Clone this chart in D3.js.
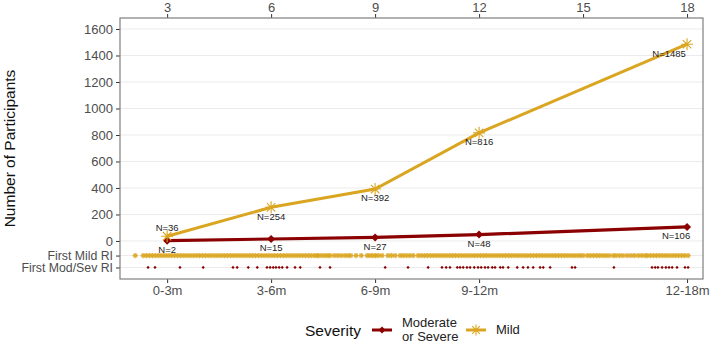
<!DOCTYPE html>
<html><head><meta charset="utf-8">
<script src="https://cdn.jsdelivr.net/npm/d3@7"></script>
<style>body{margin:0;background:#fff}svg{display:block;font-family:"Liberation Sans",Arial,sans-serif}</style>
</head><body><svg id="c" width="711" height="344"></svg>
<script>
// ---- data ----
const months = [3, 6, 9, 12, 18];
const periodLabels = ["0-3m", "3-6m", "6-9m", "9-12m", "12-18m"];
const topTicks = [3, 6, 9, 12, 15, 18];
const mildCounts = [36, 254, 392, 816, 1485];
const modSevCounts = [2, 15, 27, 48, 106];
const yTicks = [0, 200, 400, 600, 800, 1000, 1200, 1400, 1600];
const stripRows = ["First Mild RI", "First Mod/Sev RI"];
const stripRowValues = [-110, -200];
const firstMildRI = [2.08,
 2.31,2.40,2.49,2.58,2.67,2.76,2.85,2.94,3.03,3.12,3.21,3.30,3.39,3.48,3.57,3.66,3.75,3.84,3.93,4.02,4.11,4.20,4.29,4.38,4.47,4.56,4.65,4.74,4.83,4.92,5.01,5.10,5.19,5.28,5.37,5.46,5.55,5.64,5.73,5.82,5.91,6.00,6.09,6.18,6.27,6.36,6.45,6.54,6.63,6.72,6.81,6.90,6.99,7.08,7.17,7.26,7.33,
 7.38,7.47,7.56,7.64,7.70,
 7.82,7.92,8.02,8.13,
 8.22,8.30, 8.45, 8.60,
 8.77,8.85,8.93,9.01,9.09, 9.20,
 9.37,9.47,9.58,
 9.72,9.81,9.90,10.00,10.10,
 10.24,10.33,10.42,10.51,10.60,10.69,10.78,10.87,10.96,11.05,11.14,11.23,11.32,11.41,11.50,11.59,11.68,11.77,11.86,11.95,12.04,12.13,12.22,12.31,12.40,12.49,12.58,12.67,12.76,12.85,12.94,13.03,13.12,13.21,13.30,13.39,13.48,13.57,13.66,13.75,13.84,13.93,14.02,14.11,14.20,14.29,14.38,14.47,14.56,14.65,14.74,14.83,14.92,15.00,
 15.12,15.21,15.30,15.39,15.48,15.57,15.66,15.75,15.87,
 15.95,16.05,16.15,16.27,
 16.38,16.48,
 16.59,16.69,16.79,
 16.85,16.94,17.03,17.12,17.21,17.30,17.39,17.48,17.57,17.66,17.75,17.84,17.93,18.03];
const firstModSevRI = [2.45,2.65,3.37,4.04,4.90,5.02,5.34,5.60,5.88,5.97,6.06,6.14,6.23,6.32,6.46,6.69,6.84,7.41,7.70,
 9.29,9.95,10.53,10.93,11.05,11.16,11.37,11.45,11.54,11.65,11.74,11.86,11.97,12.06,12.17,12.26,12.38,12.46,12.61,12.69,12.84,
 13.10,13.27,13.41,13.56,13.76,13.85,14.05,14.68,14.77,15.89,16.99,17.08,17.16,17.28,17.39,17.48,17.57,17.71,17.94,18.03];
const seriesNames = ["Moderate\nor Severe", "Mild"];

// ---- styles ----
const RED = "#8b0000", GOLD = "#daa520";
const svg = d3.select("#c");
const L = 120, R = 703, T = 18, B = 279;
const x = d3.scaleLinear().domain([1.64, 18.46]).range([L, R]);
const y = d3.scaleLinear().domain([-287, 1683]).range([B, T]);

// gridlines
const gridVals = yTicks.concat(stripRowValues);
svg.append("g").selectAll("line").data(gridVals).join("line")
  .attr("x1", L).attr("x2", R).attr("y1", d => y(d)).attr("y2", d => y(d))
  .attr("stroke", "#ebebeb").attr("stroke-width", 1);

// axes
const axisStyle = (size) => g => {
  g.select(".domain").remove();
  g.selectAll(".tick line").attr("stroke", "#333");
  g.selectAll(".tick text").attr("fill", "#4d4d4d").style("font-size", size).style("font-family", "Liberation Sans, Arial, sans-serif");
};
svg.append("g").attr("transform", `translate(${L},0)`)
  .call(d3.axisLeft(y).tickValues(yTicks).tickSize(4).tickPadding(3).tickFormat(d3.format("d"))).call(axisStyle("13px"));
svg.append("g").attr("transform", `translate(${L},0)`)
  .call(d3.axisLeft(y).tickValues(stripRowValues).tickSize(4).tickPadding(3).tickFormat((d, i) => stripRows[i])).call(axisStyle("12.3px"));
svg.append("g").attr("transform", `translate(0,${T})`)
  .call(d3.axisTop(x).tickValues(topTicks).tickSize(4).tickPadding(2).tickFormat(d3.format("d"))).call(axisStyle("13px"));
svg.append("g").attr("transform", `translate(0,${B})`)
  .call(d3.axisBottom(x).tickValues(months).tickSize(4).tickPadding(3).tickFormat((d, i) => periodLabels[i])).call(axisStyle("13px"));

// symbols
const asterisk = r => `M${-r},0L${r},0M0,${-r}L0,${r}M${-r*0.7},${-r*0.7}L${r*0.7},${r*0.7}M${-r*0.7},${r*0.7}L${r*0.7},${-r*0.7}`;
const diamond = r => `M0,${-r}L${r},0L0,${r}L${-r},0Z`;

// strip points
const strip = svg.append("g");
strip.selectAll("path.m").data(firstMildRI).join("path").attr("class", "m")
  .attr("transform", d => `translate(${x(d)},${y(stripRowValues[0])})`)
  .attr("d", asterisk(2.6)).attr("stroke", GOLD).attr("stroke-width", 1.2).attr("fill", "none").attr("opacity", 0.9);
strip.selectAll("path.s").data(firstModSevRI).join("path").attr("class", "s")
  .attr("transform", d => `translate(${x(d)},${y(stripRowValues[1])})`)
  .attr("d", diamond(1.6)).attr("fill", RED);

// lines
const line = d3.line().x((d, i) => x(months[i])).y(d => y(d));
svg.append("path").datum(modSevCounts).attr("d", line).attr("fill", "none").attr("stroke", RED).attr("stroke-width", 3.2);
svg.append("path").datum(mildCounts).attr("d", line).attr("fill", "none").attr("stroke", GOLD).attr("stroke-width", 3);
svg.selectAll("path.rp").data(modSevCounts).join("path").attr("class", "rp")
  .attr("transform", (d, i) => `translate(${x(months[i])},${y(d)})`).attr("d", diamond(4)).attr("fill", RED);
svg.selectAll("path.gp").data(mildCounts).join("path").attr("class", "gp")
  .attr("transform", (d, i) => `translate(${x(months[i])},${y(d)})`).attr("d", asterisk(6)).attr("stroke", GOLD).attr("stroke-width", 1.1).attr("fill", "none");

// labels
const lab = svg.append("g").style("font-size", "9.5px").attr("fill", "#222").attr("text-anchor", "middle");
lab.selectAll("text.gl").data(mildCounts).join("text").attr("class", "gl")
  .attr("x", (d, i) => x(months[i]) - (i === months.length - 1 ? 18 : 0))
  .attr("y", (d, i) => y(d) + (i === 0 ? -9 : 9)).attr("dy", "0.35em")
  .text(d => "N=" + d);
lab.selectAll("text.rl").data(modSevCounts).join("text").attr("class", "rl")
  .attr("x", (d, i) => x(months[i]) - (i === months.length - 1 ? 11 : 0))
  .attr("y", d => y(d) + 9).attr("dy", "0.35em")
  .text(d => "N=" + d);

// panel border
svg.append("rect").attr("x", L).attr("y", T).attr("width", R - L).attr("height", B - T)
  .attr("fill", "none").attr("stroke", "#7f7f7f").attr("stroke-width", 1.2);

// y title
svg.append("text").attr("transform", `translate(15,${(T + B) / 2}) rotate(-90)`)
  .attr("text-anchor", "middle").style("font-size", "15.5px").attr("fill", "#111").text("Number of Participants");

// legend
const lg = svg.append("g");
lg.append("text").attr("x", 305).attr("y", 331).attr("dy", "0.35em").style("font-size", "15.5px").attr("fill", "#111").text("Severity");
const keys = [{x0: 372, c: RED, sym: diamond(3.5), fill: RED, tx: 402},
              {x0: 466, c: GOLD, sym: asterisk(5.5), fill: "none", tx: 496}];
keys.forEach((k, i) => {
  lg.append("line").attr("x1", k.x0).attr("x2", k.x0 + 20).attr("y1", 330).attr("y2", 330).attr("stroke", k.c).attr("stroke-width", 3);
  lg.append("path").attr("transform", `translate(${k.x0 + 10},330)`).attr("d", k.sym)
    .attr("fill", k.fill).attr("stroke", k.fill === "none" ? k.c : "none").attr("stroke-width", 1.1);
  const lines = seriesNames[i].split("\n");
  const t = lg.append("text").attr("x", k.tx).style("font-size", "13px").attr("fill", "#222");
  lines.forEach((s, j) => t.append("tspan").attr("x", k.tx)
    .attr("y", 329.5 + (j - (lines.length - 1) / 2) * 13.5).attr("dy", "0.35em").text(s));
});
</script></body></html>
